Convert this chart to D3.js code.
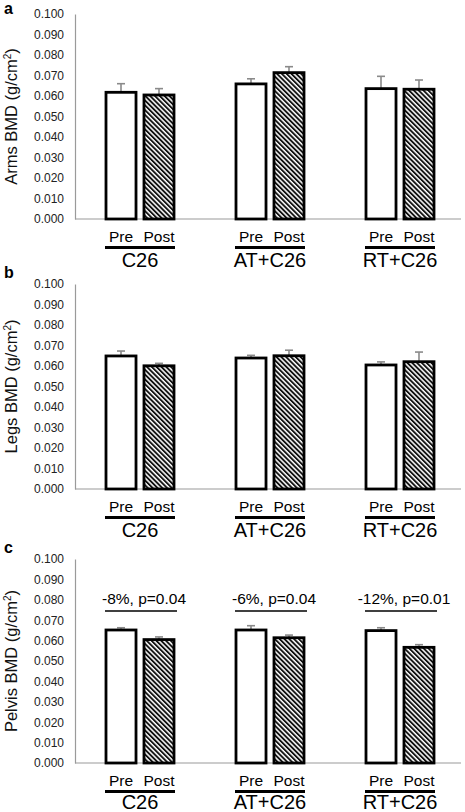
<!DOCTYPE html>
<html>
<head>
<meta charset="utf-8">
<script src="https://cdn.jsdelivr.net/npm/d3@7"></script>
<style>
  html, body { margin: 0; padding: 0; background: #fff; }
  svg { display: block; font-family: "Liberation Sans", Arial, Helvetica, sans-serif; }
</style>
</head>
<body>
<svg id="chart" width="465" height="812"></svg>
<script>
// ---- data ----
const groups = ["C26", "AT+C26", "RT+C26"];
const phases = ["Pre", "Post"];
const tickValues = [0, 0.01, 0.02, 0.03, 0.04, 0.05, 0.06, 0.07, 0.08, 0.09, 0.10];
const panelLetters = ["a", "b", "c"];
const regions = ["Arms", "Legs", "Pelvis"];

const armsPre = [0.0618, 0.0659, 0.0636];
const armsPreErr = [0.0042, 0.0025, 0.0060];
const armsPost = [0.0605, 0.0714, 0.0633];
const armsPostErr = [0.0031, 0.0029, 0.0045];

const legsPre = [0.0649, 0.0639, 0.0605];
const legsPreErr = [0.0024, 0.0013, 0.0015];
const legsPost = [0.0601, 0.0650, 0.0621];
const legsPostErr = [0.0012, 0.0027, 0.0047];

const pelvisPre = [0.0652, 0.0652, 0.0649];
const pelvisPreErr = [0.0011, 0.0021, 0.0014];
const pelvisPost = [0.0605, 0.0614, 0.0567];
const pelvisPostErr = [0.0013, 0.0013, 0.0013];

const pelvisNotes = ["-8%, p=0.04", "-6%, p=0.04", "-12%, p=0.01"];
const noteTextValue = 0.078;
const noteLineValue = 0.0745;

const panels = [
  { letter: panelLetters[0], region: regions[0], pre: armsPre, preErr: armsPreErr, post: armsPost, postErr: armsPostErr, notes: null },
  { letter: panelLetters[1], region: regions[1], pre: legsPre, preErr: legsPreErr, post: legsPost, postErr: legsPostErr, notes: null },
  { letter: panelLetters[2], region: regions[2], pre: pelvisPre, preErr: pelvisPreErr, post: pelvisPost, postErr: pelvisPostErr, notes: pelvisNotes }
];

// ---- layout ----
const panelTop = [14, 284, 559];
const panelBottom = [219, 489, 763];
const groupLabelOffset = [48, 48, 46];
const axisLeft = 75, axisRight = 465;

const svg = d3.select("#chart");

// hatch pattern
const defs = svg.append("defs");
const pat = defs.append("pattern")
  .attr("id", "hatch")
  .attr("patternUnits", "userSpaceOnUse")
  .attr("width", 3.4).attr("height", 3.4)
  .attr("patternTransform", "rotate(-45)");
pat.append("rect").attr("width", 3.4).attr("height", 3.4).attr("fill", "#fff");
pat.append("rect").attr("width", 1.9).attr("height", 3.4).attr("fill", "#111");

const x0 = d3.scaleBand().domain(groups).range([axisLeft, axisRight]).padding(0);
const x1 = d3.scaleBand().domain(phases).range([31, 99]).paddingInner(0.21).paddingOuter(0);

panels.forEach((p, i) => {
  const y = d3.scaleLinear().domain([0, 0.1]).range([panelBottom[i], panelTop[i]]);
  const g = svg.append("g");

  // panel letter
  g.append("text")
    .attr("x", 4).attr("y", i === 0 ? 14 : panelTop[i] - 6)
    .attr("font-size", 16).attr("font-weight", "bold").attr("fill", "#000")
    .text(p.letter);

  // y axis
  const yAxis = d3.axisLeft(y).tickValues(tickValues).tickSize(0).tickPadding(11)
    .tickFormat(d3.format(".3f"));
  const ya = g.append("g").attr("transform", `translate(${axisLeft},0)`).call(yAxis);
  ya.select(".domain").attr("stroke", "#9a9a9a").attr("stroke-width", 1.2);
  ya.selectAll("text").attr("font-size", 12).attr("fill", "#222")
    .attr("font-family", "'Liberation Sans', Arial, sans-serif");

  // y title
  const t = g.append("text")
    .attr("transform", `translate(17,${(panelTop[i] + panelBottom[i]) / 2}) rotate(-90)`)
    .attr("text-anchor", "middle").attr("font-size", 16.5).attr("fill", "#111");
  t.append("tspan").text(p.region + " BMD (g/cm");
  t.append("tspan").attr("font-size", 10).attr("dy", -6).text("2");
  t.append("tspan").attr("dy", 6).text(")");

  // baseline
  g.append("line")
    .attr("x1", axisLeft).attr("x2", axisRight - 4)
    .attr("y1", y(0)).attr("y2", y(0))
    .attr("stroke", "#9a9a9a").attr("stroke-width", 1.2);

  groups.forEach((grp, gi) => {
    const gx = x0(grp);
    const vals = [
      { ph: "Pre", v: p.pre[gi], e: p.preErr[gi] },
      { ph: "Post", v: p.post[gi], e: p.postErr[gi] }
    ];
    vals.forEach(d => {
      const bx = gx + x1(d.ph);
      const bw = x1.bandwidth();
      const cx = bx + bw / 2;
      // error bar (upper only)
      g.append("line").attr("x1", cx).attr("x2", cx)
        .attr("y1", y(d.v)).attr("y2", y(d.v + d.e))
        .attr("stroke", "#8a8a8a").attr("stroke-width", 1.6);
      g.append("line").attr("x1", cx - 4).attr("x2", cx + 4)
        .attr("y1", y(d.v + d.e)).attr("y2", y(d.v + d.e))
        .attr("stroke", "#8a8a8a").attr("stroke-width", 1.6);
      // bar
      g.append("rect")
        .attr("x", bx).attr("y", y(d.v))
        .attr("width", bw).attr("height", y(0) - y(d.v))
        .attr("fill", d.ph === "Pre" ? "#fff" : "url(#hatch)")
        .attr("stroke", "#000").attr("stroke-width", 2.8);
      // phase label
      g.append("text")
        .attr("x", cx).attr("y", y(0) + 23)
        .attr("text-anchor", "middle").attr("font-size", 15.5).attr("fill", "#000")
        .text(d.ph);
    });
    // underline spanning both bars
    const lx1 = gx + x1("Pre") - 1;
    const lx2 = gx + x1("Post") + x1.bandwidth() + 1;
    g.append("line").attr("x1", lx1).attr("x2", lx2)
      .attr("y1", y(0) + 28.5).attr("y2", y(0) + 28.5)
      .attr("stroke", "#000").attr("stroke-width", 3);
    // group label
    g.append("text")
      .attr("x", gx + x0.bandwidth() / 2).attr("y", y(0) + groupLabelOffset[i])
      .attr("text-anchor", "middle").attr("font-size", 20).attr("fill", "#000")
      .text(grp);

    // notes (pelvis)
    if (p.notes) {
      const cxg = (lx1 + lx2) / 2;
      g.append("text")
        .attr("x", cxg + 4).attr("y", y(noteTextValue))
        .attr("text-anchor", "middle").attr("font-size", 15.5).attr("fill", "#000")
        .text(p.notes[gi]);
      g.append("line").attr("x1", lx1).attr("x2", lx2 + 2)
        .attr("y1", y(noteLineValue)).attr("y2", y(noteLineValue))
        .attr("stroke", "#000").attr("stroke-width", 1.6);
    }
  });
});
</script>
</body>
</html>
